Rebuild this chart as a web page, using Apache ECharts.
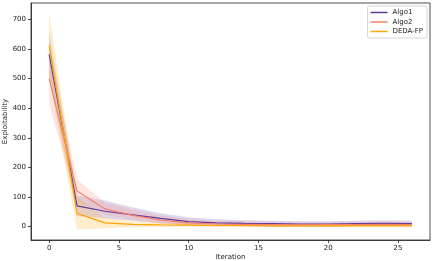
<!DOCTYPE html>
<html><head><meta charset="utf-8">
<script src="https://cdn.jsdelivr.net/npm/echarts@6/dist/echarts.min.js"></script>
<style>html,body{margin:0;padding:0;background:#fff}#c{width:439px;height:261px}</style>
</head><body><div id="c"></div>
<script>
var iterations = [0,2,4,6,8,10,12,14,16,18,20,22,24,26];
var algo1   = [582,70,52,40,28,17,13,11,10,9,9,10,11,10];
var algo1Lo = [510,35,28,20,12,5,3,1,0,0,0,2,3,2];
var algo1Hi = [655,105,88,65,45,32,25,22,20,18,18,20,22,20];
var algo2   = [500,120,60,38,22,13,9,8,7,6,7,7,8,7];
var algo2Lo = [410,85,40,22,10,4,1,0,0,0,0,1,2,1];
var algo2Hi = [590,160,82,58,38,26,20,18,15,14,14,16,17,16];
var deda    = [612,45,13,8,6,5,4,4,3,3,3,3,3,3];
var dedaLo  = [500,-10,-5,-2,-1,0,0,0,0,0,0,0,0,0];
var dedaHi  = [722,100,32,18,14,12,10,10,8,8,8,8,8,8];
var xTicks = [0,5,10,15,20,25];
var yTicks = [0,100,200,300,400,500,600,700];

function pairs(arr){ return iterations.map(function(x,i){ return [x, arr[i]]; }); }
function band(lo, hi, color){
  return {
    type:'custom', silent:true, z:1,
    data: iterations.map(function(x,i){ return [x, lo[i], hi[i]]; }),
    encode:{x:0, y:[1,2]},
    renderItem:function(params, api){
      if (params.dataIndex !== 0) return null;
      var pts = [];
      for (var i=0;i<iterations.length;i++) pts.push(api.coord([iterations[i], hi[i]]));
      for (var j=iterations.length-1;j>=0;j--) pts.push(api.coord([iterations[j], lo[j]]));
      return {type:'polygon', shape:{points:pts}, style:{fill:color, opacity:0.2}};
    }
  };
}
var cA1='#5b3a9e', cA2='#f4806e', cD='#ffa500';
var series = [
  band(algo1Lo, algo1Hi, cA1),
  band(algo2Lo, algo2Hi, cA2),
  band(dedaLo, dedaHi, cD),
  {type:'line', name:'Algo1', data:pairs(algo1), symbol:'none', lineStyle:{color:cA1,width:1.2}, itemStyle:{color:cA1}, z:3},
  {type:'line', name:'Algo2', data:pairs(algo2), symbol:'none', lineStyle:{color:cA2,width:1.2}, itemStyle:{color:cA2}, z:3},
  {type:'line', name:'DEDA-FP', data:pairs(deda), symbol:'none', lineStyle:{color:cD,width:1.2}, itemStyle:{color:cD}, z:3}
];
var chart = echarts.init(document.getElementById('c'), null, {renderer:'canvas'});
chart.setOption({
  animation:false,
  grid:{left:31, right:9, top:3, bottom:21, containLabel:false, outerBoundsMode:'none',
    show:true, borderColor:'#222', borderWidth:0.8, backgroundColor:'transparent'},
  legend:{data:['Algo1','Algo2','DEDA-FP'], right:12, top:6, orient:'vertical', itemWidth:17, itemHeight:1.5, itemGap:2.5,
    icon:'rect', borderColor:'#ccc', borderWidth:0.8, borderRadius:2, padding:[3,4,3,3],
    textStyle:{fontSize:7, color:'#222', fontFamily:'DejaVu Sans', padding:[0,0,0,0]}},
  xAxis:{type:'value', min:-1.3, max:27.3, interval:5, name:'Iteration', nameLocation:'middle', nameGap:14,
    nameMoveOverlap:false,
    nameTextStyle:{fontSize:7, color:'#222', fontFamily:'DejaVu Sans'},
    axisLine:{show:true, onZero:false, lineStyle:{color:'#222', width:0.8}},
    axisTick:{show:true, length:3, lineStyle:{color:'#222', width:0.8}, customValues:xTicks},
    axisLabel:{fontSize:7, color:'#222', fontFamily:'DejaVu Sans', margin:5, customValues:xTicks},
    splitLine:{show:false}},
  yAxis:{type:'value', min:-45, max:755, name:'Exploitability', nameLocation:'middle', nameGap:22,
    nameMoveOverlap:false,
    nameTextStyle:{fontSize:7, color:'#222', fontFamily:'DejaVu Sans'},
    axisLine:{show:true, onZero:false, lineStyle:{color:'#222', width:0.8}},
    axisTick:{show:true, length:3, lineStyle:{color:'#222', width:0.8}, customValues:yTicks},
    axisLabel:{fontSize:7, color:'#222', fontFamily:'DejaVu Sans', margin:5, customValues:yTicks},
    splitLine:{show:false}},
  series: series
});
</script></body></html>
